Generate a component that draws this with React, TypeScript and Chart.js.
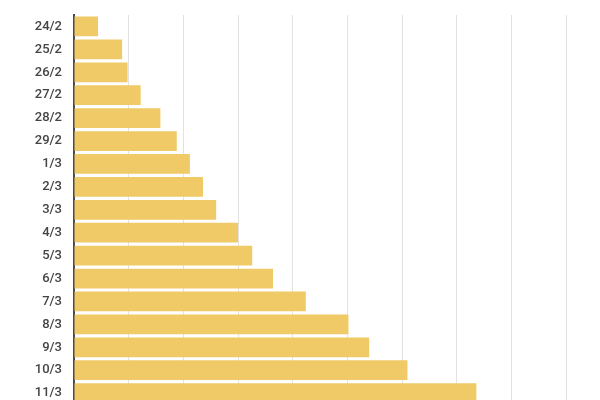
import React, { useEffect, useRef } from "react";
import { Chart, registerables } from "chart.js";

Chart.register(...registerables);

const categories = [
  "24/2", "25/2", "26/2", "27/2", "28/2", "29/2",
  "1/3", "2/3", "3/3", "4/3", "5/3", "6/3", "7/3", "8/3", "9/3", "10/3", "11/3",
];
const values = [22, 44, 49, 61, 79, 94, 106, 118, 130, 150, 163, 182, 212, 251, 270, 305, 368];
const xTickStep = 50;
const xMax = 450;

export default function App() {
  const ref = useRef<HTMLCanvasElement | null>(null);
  useEffect(() => {
    if (!ref.current) return;
    const chart = new Chart(ref.current, {
      type: "bar",
      data: {
        labels: categories,
        datasets: [
          {
            data: values,
            backgroundColor: "#EFCA66",
            borderWidth: 0,
            barPercentage: 0.86,
            categoryPercentage: 1,
          },
        ],
      },
      options: {
        indexAxis: "y",
        animation: false,
        responsive: true,
        maintainAspectRatio: false,
        layout: { padding: { top: 7, right: 26, left: 0, bottom: 0 } },
        plugins: { legend: { display: false }, tooltip: { enabled: false } },
        scales: {
          x: {
            min: 0,
            max: xMax,
            ticks: { stepSize: xTickStep, color: "#444", font: { family: "Roboto", size: 12 } },
            grid: { color: "#e2e2e2", lineWidth: 1, drawTicks: false },
            border: { display: false },
          },
          y: {
            afterFit: (axis: any) => {
              axis.width = 66;
              axis.paddingTop = 0;
              axis.paddingBottom = 0;
            },
            ticks: {
              color: "#444",
              padding: 12,
              font: { family: "Roboto", size: 13, weight: 500 },
            },
            grid: { display: false, drawTicks: false },
            border: { display: true, color: "#4a4a4a", width: 2 },
          },
        },
      },
    });
    return () => chart.destroy();
  }, []);
  return (
    <div style={{ width: 584, height: 417, position: "relative" }}>
      <canvas ref={ref} />
    </div>
  );
}
